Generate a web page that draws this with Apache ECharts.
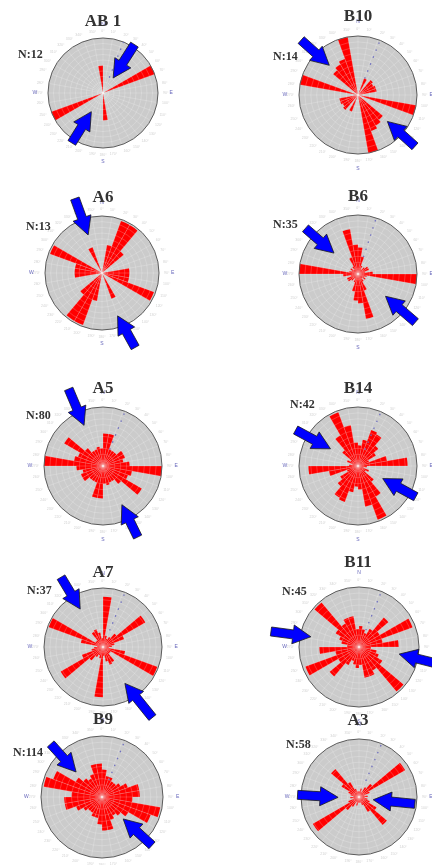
<!DOCTYPE html>
<html>
<head>
<meta charset="utf-8">
<title>Rose diagrams</title>
<script src="https://cdn.jsdelivr.net/npm/echarts@6/dist/echarts.min.js"></script>
<style>
  html, body { margin: 0; padding: 0; background: #fff; }
  #main { width: 432px; height: 865px; }
</style>
</head>
<body>
<div id="main"></div>
<script>
// stations and number of measurements
const stations = ['AB 1', 'B10', 'A6', 'B6', 'A5', 'B14', 'A7', 'B11', 'B9', 'A3'];
const counts = [12, 14, 13, 35, 80, 42, 37, 45, 114, 58];

// 10° sectors, 0-350
const sectors = Array.from({ length: 36 }, (_, i) => i * 10 + '°');

// relative petal length per 10° bin from 0° to 170°
// (bidirectional rose: 180-350 repeats the same bins)
const binsAB1 = [0, 0, 0, 0, 0, 0, 1.0, 0, 0, 0, 0, 0, 0, 0, 0, 0, 0, 0.5];
const binsB10 = [0, 0, 0.3, 0, 0.33, 0.3, 0.32, 0.32, 0, 0, 1.0, 0, 0, 0.55, 0.6, 0.65, 1.0, 0];
const binsA6 = [0, 0.5, 0.97, 0.97, 0.5, 0, 0, 0, 0.48, 0.48, 0.48, 0.97, 0, 0, 0, 0.48, 0, 0];
const binsB6 = [0.45, 0.3, 0.15, 0.1, 0.15, 0.2, 0.2, 0.12, 0.25, 1.0, 0.15, 0.12, 0.15, 0.1, 0.15, 0.3, 0.77, 0.5];
const binsA5 = [0.55, 0.55, 0.3, 0.3, 0.3, 0.4, 0.4, 0.35, 0.45, 1.0, 0.5, 0.45, 0.76, 0.4, 0.3, 0.3, 0.33, 0.3];
const binsB14 = [0.35, 0.45, 0.65, 0.62, 0.45, 0.35, 0.2, 0.5, 0.84, 0.15, 0.1, 0.2, 0.15, 0.35, 0.6, 0.97, 0.7, 0.4];
const binsA7 = [0.85, 0.2, 0.15, 0.2, 0.3, 0.83, 0.38, 0.2, 0.15, 0.1, 0.38, 0.98, 0.15, 0.15, 0.3, 0.32, 0.25, 0.15];
const binsB11 = [0.35, 0.3, 0.25, 0.35, 0.64, 0.4, 0.95, 0.4, 0.66, 0.2, 0.3, 0.35, 0.45, 0.97, 0.45, 0.52, 0.52, 0.3];
const binsB9 = [0.45, 0.35, 0.35, 0.3, 0.3, 0.35, 0.45, 0.62, 0.62, 0.5, 0.97, 0.85, 0.5, 0.4, 0.35, 0.4, 0.55, 0.55];
const binsA3 = [0.1, 0.15, 0.1, 0.2, 0.3, 0.92, 0.2, 0.1, 0.15, 0.1, 0.15, 0.2, 0.35, 0.63, 0.3, 0.15, 0.1, 0.1];
const bins = [binsAB1, binsB10, binsA6, binsB6, binsA5, binsB14, binsA7, binsB11, binsB9, binsA3];

// compression arrows: [tail radius, tail bearing, head radius, head bearing]
const arrowsAB1 = [[1.05, 33, 0.33, 34], [1.07, 212, 0.4, 212]];
const arrowsB10 = [[1.34, 314, 0.7, 316], [1.3, 132, 0.67, 132]];
const arrowsA6 = [[1.39, 340, 0.71, 340], [1.43, 156, 0.8, 160]];
const arrowsB6 = [[1.18, 311, 0.54, 311], [1.27, 130, 0.6, 129]];
const arrowsA5 = [[1.43, 336, 0.76, 335], [1.34, 154, 0.73, 154]];
const arrowsB14 = [[1.22, 300, 0.55, 302], [1.11, 118, 0.47, 117]];
const arrowsA7 = [[1.38, 329, 0.75, 329], [1.46, 145, 0.72, 149]];
const arrowsB11 = [[1.49, 280, 0.82, 282], [1.3, 102, 0.68, 100]];
const arrowsB9 = [[1.21, 316, 0.59, 314], [1.14, 134, 0.5, 136]];
const arrowsA3 = [[1.06, 272, 0.36, 269], [0.97, 97, 0.25, 101]];
const arrows = [arrowsAB1, arrowsB10, arrowsA6, arrowsB6, arrowsA5, arrowsB14, arrowsA7, arrowsB11, arrowsB9, arrowsA3];

// faint dotted direction line (bearing), none on A6
const dotDir = [22, 22, null, 18, 22, 23, 22, 22, 22, 23];

const cardinals = ['N', 'E', 'S', 'W'];
const cardinalAngles = [0, 90, 180, 270];

// where each diagram sits on the page
const layout = [
  { c: [103, 93], r: 55, t: [103, 22], n: [18, 55] },
  { c: [358, 95], r: 59, t: [358, 17], n: [273, 57] },
  { c: [102, 273], r: 57, t: [103, 198], n: [26, 227] },
  { c: [358, 274], r: 59, t: [358, 197], n: [273, 225] },
  { c: [103, 466], r: 59, t: [103, 389], n: [26, 416] },
  { c: [358, 466], r: 59, t: [358, 389], n: [290, 405] },
  { c: [103, 647], r: 59, t: [103, 573], n: [27, 591] },
  { c: [359, 647], r: 60, t: [358, 563], n: [282, 592] },
  { c: [102, 797], r: 61, t: [103, 720], n: [13, 753] },
  { c: [359, 797], r: 58, t: [358, 721], n: [286, 745] }
];

function renderArrow(params, api) {
  const p1 = api.coord([api.value(0), api.value(1)]);
  const p2 = api.coord([api.value(2), api.value(3)]);
  const dx = p2[0] - p1[0], dy = p2[1] - p1[1];
  const len = Math.hypot(dx, dy);
  const ux = dx / len, uy = dy / len, nx = -uy, ny = ux;
  const hl = 18, hw = 9.5, sw = 4.5;
  const bx = p2[0] - ux * hl, by = p2[1] - uy * hl;
  const pts = [
    [p1[0] + nx * sw, p1[1] + ny * sw],
    [bx + nx * sw, by + ny * sw],
    [bx + nx * hw, by + ny * hw],
    p2,
    [bx - nx * hw, by - ny * hw],
    [bx - nx * sw, by - ny * sw],
    [p1[0] - nx * sw, p1[1] - ny * sw]
  ];
  return {
    type: 'polygon',
    shape: { points: pts },
    style: { fill: '#0000ff', stroke: '#1a1a1a', lineWidth: 0.8 }
  };
}

const chart = echarts.init(document.getElementById('main'));
const option = {
  animation: false,
  backgroundColor: '#fff',
  polar: [],
  angleAxis: [],
  radiusAxis: [],
  series: [],
  graphic: { elements: [] }
};

const gridLine = { show: true, lineStyle: { color: 'rgba(255,255,255,0.28)', width: 0.7 } };

stations.forEach((name, i) => {
  const L = layout[i];
  const p = 2 * i;
  // polar for the grey disk and the petals
  option.polar.push({ center: L.c, radius: L.r });
  // polar with a value angle axis: grid on top, arrows and labels
  option.polar.push({ center: L.c, radius: L.r });

  option.angleAxis.push({
    polarIndex: p, type: 'category', data: sectors, startAngle: 90, clockwise: true,
    axisLine: { show: false }, axisTick: { show: false }, axisLabel: { show: false },
    splitLine: { show: false }
  });
  option.radiusAxis.push({
    polarIndex: p, type: 'value', min: 0, max: 1, interval: 0.1,
    axisLine: { show: false }, axisTick: { show: false }, axisLabel: { show: false },
    splitLine: { show: false },
    splitArea: { show: true, areaStyle: { color: ['#cbcbcb'] } }
  });
  option.angleAxis.push({
    polarIndex: p + 1, type: 'value', min: 0, max: 360, interval: 10, startAngle: 90, clockwise: true, z: 5,
    axisLine: { show: true, lineStyle: { color: '#5a5a5a', width: 1 } },
    axisTick: { show: false },
    splitLine: gridLine,
    axisLabel: { show: true, fontSize: 3.5, color: '#d2d2d2', margin: 5, formatter: v => v + '°' }
  });
  option.radiusAxis.push({
    polarIndex: p + 1, type: 'value', min: 0, max: 1, interval: 0.1, z: 5,
    axisLine: { show: false }, axisTick: { show: false }, axisLabel: { show: false },
    splitLine: gridLine
  });

  option.series.push({
    type: 'bar', coordinateSystem: 'polar', polarIndex: p,
    data: bins[i].concat(bins[i]),
    barCategoryGap: '0%',
    itemStyle: { color: '#ff0000' },
    z: 2
  });
  if (dotDir[i] !== null) {
    option.series.push({
      type: 'line', coordinateSystem: 'polar', polarIndex: p + 1,
      data: [[0.3, dotDir[i]], [1.05, dotDir[i]]],
      symbol: 'none', clip: false,
      lineStyle: { type: [1.5, 6], color: '#7070c0', width: 1.3 },
      z: 6
    });
  }
  option.series.push({
    type: 'scatter', coordinateSystem: 'polar', polarIndex: p + 1,
    data: cardinalAngles.map(a => [1.24, a]),
    symbolSize: 0, clip: false, silent: true,
    label: {
      show: true, position: 'inside', fontSize: 5, color: '#3c3ca8',
      formatter: q => cardinals[q.dataIndex]
    },
    z: 6
  });
  option.series.push({
    type: 'custom', coordinateSystem: 'polar', polarIndex: p + 1,
    data: arrows[i], renderItem: renderArrow, clip: false,
    z: 10
  });

  option.graphic.elements.push({
    type: 'text', x: L.t[0], y: L.t[1], z: 20,
    style: { text: name, font: 'bold 17px "Liberation Serif"', fill: '#333', align: 'center', verticalAlign: 'middle' }
  });
  option.graphic.elements.push({
    type: 'text', x: L.n[0], y: L.n[1], z: 20,
    style: { text: 'N:' + counts[i], font: 'bold 12px "Liberation Serif"', fill: '#333', align: 'left', verticalAlign: 'middle' }
  });
});

chart.setOption(option);
</script>
</body>
</html>
